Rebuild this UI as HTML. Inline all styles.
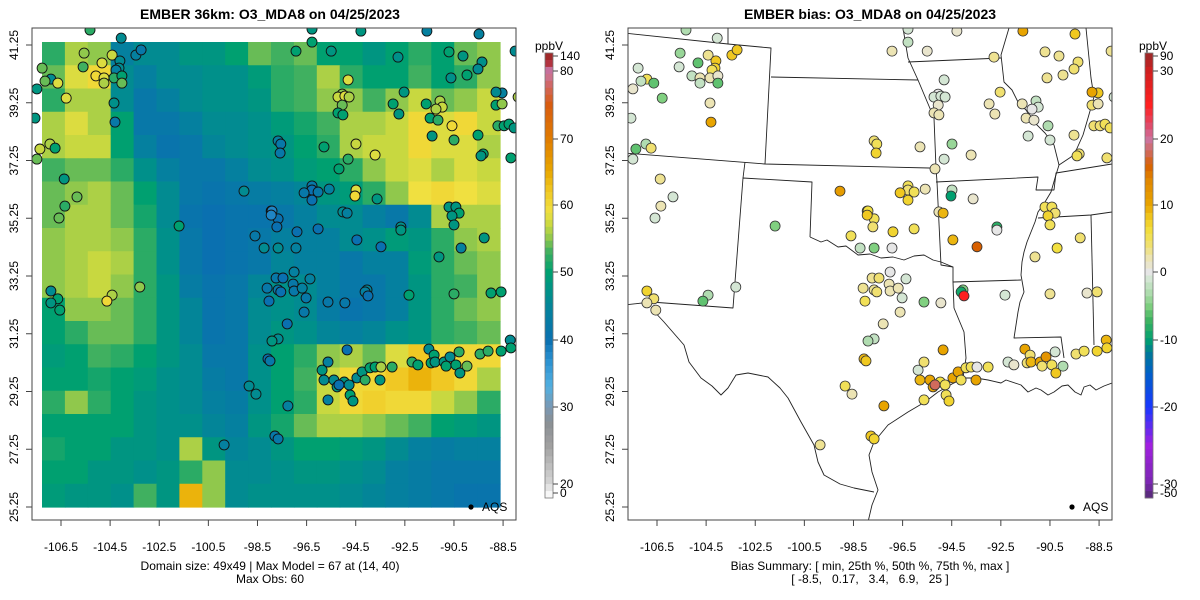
<!DOCTYPE html>
<html><head><meta charset="utf-8"><style>
body{margin:0;background:#fff}
svg{display:block;font-family:"Liberation Sans",Arial,sans-serif}
</style></head><body>
<svg id="chart" width="1200" height="600" viewBox="0 0 1200 600" xmlns="http://www.w3.org/2000/svg">
<defs>
<clipPath id="clipL"><rect x="32" y="28" width="484" height="492"/></clipPath>
<clipPath id="clipR"><rect x="628" y="28" width="484" height="492"/></clipPath>
<g id="borders" fill="none" stroke="#222" stroke-width="0.9" stroke-linejoin="round">
<polyline points="624,33 728,44 771,48 765,164"/>
<polyline points="728,28 728,44"/>
<polyline points="771,77 918,80"/>
<polyline points="624,153 765,164 929,168 936,168"/>
<polyline points="936,182 1038,177 1036,190 1054,190 1056,173 1112,164"/>
<polyline points="903,28 908,58 918,80 934,118 936,168 937,182 941,265 953,267 953,282 954,308 964,332 966,358 963,378"/>
<polyline points="810,237 812,182 743,178 733,308 651,302 624,305"/>
<polyline points="745,162 743,178"/>
<polyline points="810,237 821,242 827,240 838,247 846,246 858,255 870,254 881,258 893,257 904,260 914,256 924,255 933,260 941,262 953,267"/>
<polyline points="651,308 664,322 684,345 689,362 701,378 712,386 721,395 728,388 736,375 748,373 768,377 780,388 788,398 801,422 814,445 818,462 824,475 840,484 854,488 874,492"/>
<polyline points="868,522 872,505 878,490 872,472 869,455 874,442 888,425 908,412 925,402 938,392 952,384 964,378 976,378 988,380 1001,383 1006,380 1021,385 1028,392 1036,388 1041,390 1048,395 1054,392 1062,386 1068,385 1075,392 1081,395 1084,387 1090,385 1096,390 1104,386 1112,383"/>
<polyline points="953,282 1021,280"/>
<polyline points="908,62 1001,58"/>
<polyline points="1009,28 1001,55 1004,82 1012,90 1018,102 1026,110 1034,122 1045,133 1054,145 1059,165 1055,178 1051,192 1045,202 1038,212 1035,222 1031,232 1027,242 1024,252 1022,262 1021,275 1024,292 1020,302 1018,312 1016,325 1014,338 1061,337 1064,358"/>
<polyline points="1086,28 1091,78 1094,97 1088,118 1083,135 1074,155 1059,165"/>
<polyline points="1038,218 1091,215 1112,212"/>
<polyline points="1091,215 1094,345"/>
</g>
</defs>

<rect width="1200" height="600" fill="#fff"/>

<text x="270" y="19" text-anchor="middle" font-size="14" font-weight="bold">EMBER 36km: O3_MDA8 on 04/25/2023</text>
<g id="heatmap" clip-path="url(#clipL)"></g>
<use href="#borders" transform="translate(-596,0)" clip-path="url(#clipL)"/>
<g id="obsL" clip-path="url(#clipL)"></g>
<rect x="32" y="28" width="484" height="492" fill="none" stroke="#444" stroke-width="1"/>
<g id="axesL" font-size="12" fill="#000"></g>
<circle cx="471" cy="507" r="2.6" fill="#000"/>
<text x="482" y="511" font-size="12">AQS</text>
<text x="270" y="570" text-anchor="middle" font-size="12">Domain size: 49x49 | Max Model = 67 at (14, 40)</text>
<text x="270" y="583" text-anchor="middle" font-size="12">Max Obs: 60</text>
<g id="cbarL"></g>
<text x="549" y="50" text-anchor="middle" font-size="12">ppbV</text>

<text x="870" y="19" text-anchor="middle" font-size="14" font-weight="bold">EMBER bias: O3_MDA8 on 04/25/2023</text>
<use href="#borders" clip-path="url(#clipR)"/>
<g id="biasR" clip-path="url(#clipR)"></g>
<rect x="628" y="28" width="484" height="492" fill="none" stroke="#444" stroke-width="1"/>
<g id="axesR" font-size="12" fill="#000"></g>
<circle cx="1072" cy="507" r="2.6" fill="#000"/>
<text x="1083" y="511" font-size="12">AQS</text>
<text x="870" y="570" text-anchor="middle" font-size="12">Bias Summary: [ min, 25th %, 50th %, 75th %, max ]</text>
<text x="870" y="583" text-anchor="middle" font-size="12" xml:space="preserve">[ -8.5,   0.17,   3.4,   6.9,   25 ]</text>
<g id="cbarR"></g>
<text x="1153" y="50" text-anchor="middle" font-size="12">ppbV</text>
</svg>
<script>
const xTickLabels = [-106.5,-104.5,-102.5,-100.5,-98.5,-96.5,-94.5,-92.5,-90.5,-88.5];
const yTickLabels = [41.25,39.25,37.25,35.25,33.25,31.25,29.25,27.25,25.25];
const obsTicks = [140,80,70,60,50,40,30,20,0];
const biasTicks = [90,30,20,10,0,-10,-20,-30,-50];
const modelGrid = [
[52,56,55,44,46,46,48,48,50,54,53,54,50,50,48,50,52,50,54,55],
[54,58,60,46,44,46,46,47,47,49,52,53,56,52,50,50,53,50,52,55],
[52,56,56,46,42,44,46,47,47,48,52,53,55,55,53,55,57,54,55,57],
[56,58,56,50,42,42,44,46,46,47,49,51,53,56,56,57,60,58,60,57],
[56,57,57,50,44,41,42,45,46,47,48,50,52,56,57,57,60,58,58,56],
[53,54,54,52,47,44,42,42,44,46,47,49,50,52,55,57,58,56,58,57],
[54,55,56,54,50,46,42,41,42,43,44,45,48,49,52,55,59,60,59,58],
[54,56,56,54,51,46,41,40,41,41,42,44,46,46,44,42,46,56,56,56],
[55,56,56,55,52,47,42,40,41,42,44,44,44,46,47,49,48,52,55,56],
[55,56,57,56,52,47,42,40,41,42,45,44,44,42,44,44,49,52,54,55],
[55,56,57,55,52,48,43,41,42,45,47,46,44,42,42,44,48,52,53,55],
[50,55,55,54,52,48,45,41,42,46,47,46,43,41,42,44,48,52,54,55],
[50,52,54,54,52,48,45,41,42,46,48,47,45,44,45,47,48,52,53,54],
[49,50,53,52,50,48,46,42,42,47,50,52,55,56,54,58,62,60,60,60],
[50,50,51,50,49,47,46,43,42,47,50,53,57,60,60,62,64,62,60,56],
[52,55,52,50,48,47,46,44,43,47,50,52,57,60,61,60,60,57,55,52],
[50,50,50,50,48,47,47,45,44,48,51,54,56,56,55,54,53,50,49,48],
[51,50,50,48,48,47,56,48,45,46,48,50,50,49,48,46,44,43,44,44],
[50,50,48,48,47,48,52,55,46,46,47,48,48,47,46,44,43,42,42,42],
[49,48,48,47,53,48,64,55,46,47,47,47,47,46,45,44,43,42,41,41]];
const stLon = [-105.32,-104.05,-105.56,-104.42,-104.10,-103.45,-103.24,-104.83,-104.14,-104.26,-107.27,-105.60,-105.08,-104.75,-104.34,-104.02,-106.91,-107.15,-106.63,-107.48,-104.75,-104.02,-106.29,-104.34,-104.30,-107.56,-107.36,-106.95,-106.74,-107.48,-106.37,-105.85,-106.34,-106.58,-99.05,-101.69,-97.94,-98.60,-98.23,
-96.28,-94.29,-91.60,-89.48,-96.28,-96.93,-95.50,-92.78,-90.70,-90.13,-88.01,-89.36,-89.52,-90.62,-89.97,-94.81,-95.05,-95.22,-94.94,-94.77,-95.05,-95.22,-95.02,-92.53,-92.98,-92.74,-91.63,-91.07,-90.98,-91.23,-91.47,-91.15,-90.58,-87.89,-88.54,-88.79,-88.79,-88.54,-88.71,-88.46,-88.26,-88.05,-89.52,-91.39,-90.50,-97.66,-97.55,-97.58,-95.79,-94.49,-93.71,-94.81,-95.18,-89.31,-89.40,-88.18,-96.28,-96.28,-96.60,-96.03,-96.28,-95.58,-94.49,-94.53,-93.63,-97.91,-97.66,-97.94,-97.71,-96.89,-96.03,-95.02,-94.85,-90.70,-90.42,-90.29,-90.58,-90.50,-89.27,-90.21,-91.11,-94.45,-93.47,-92.66,-92.66,-97.66,-96.93,
-97.74,-97.66,-97.55,-97.05,-97.01,-96.36,-97.46,-97.01,-96.68,-96.52,-95.63,-94.94,-96.60,-97.29,-97.66,-94.04,-94.12,-94.00,-92.33,-90.50,-88.99,-88.58,-94.85,-98.07,-97.99,-95.63,-95.87,-95.79,-95.39,-94.97,-95.26,-95.18,-94.77,-94.73,-94.45,-94.24,-94.12,-93.92,-93.71,-93.47,-93.51,-93.02,-94.61,-95.63,-97.26,-97.79,-97.66,-92.21,-91.97,-91.52,-91.31,-91.43,-91.27,-90.90,-90.66,-90.82,-90.42,-90.26,-90.29,-89.97,-89.44,-89.11,-88.58,-88.21,-88.18,
-106.91,-106.63,-106.91,-106.55,-104.42,-104.63,-103.29,-98.11,-98.03,-97.91,-98.84,-98.56,-99.86];
const stLat = [41.77,41.49,40.97,40.90,40.70,40.90,41.08,40.63,40.45,40.38,40.45,40.49,40.18,40.11,40.11,40.18,40.07,40.00,39.93,39.73,39.93,39.93,39.41,39.24,38.58,38.72,37.65,37.82,37.68,37.30,36.61,35.99,35.67,35.26,36.19,34.98,35.50,34.64,34.22,
41.80,41.73,41.73,41.63,41.35,41.04,41.04,40.83,41.01,40.87,41.04,40.66,40.42,40.11,40.21,40.04,39.55,39.45,39.48,39.45,39.17,38.90,38.83,39.62,39.21,38.86,39.21,39.31,39.10,39.03,38.72,38.65,38.45,39.45,39.59,39.62,39.17,39.21,38.45,38.45,38.51,38.38,38.13,38.10,37.96,37.93,37.82,37.51,37.72,37.82,37.44,37.30,36.96,37.48,37.41,37.34,36.37,36.23,36.13,36.16,35.88,36.26,36.23,36.02,35.92,35.50,35.23,35.36,34.95,34.78,34.88,35.47,35.43,35.64,35.64,35.43,35.33,35.02,34.57,34.22,33.91,34.50,34.26,34.95,34.84,34.22,34.22,
33.18,32.77,32.70,32.97,33.39,33.15,33.18,32.73,32.83,32.49,32.35,32.32,32.00,31.59,31.07,32.77,32.70,32.56,32.59,32.63,32.66,32.70,30.69,30.38,30.31,30.27,29.99,29.65,29.65,29.58,29.41,29.48,29.48,29.13,29.72,29.93,29.65,30.07,30.10,30.10,29.65,30.10,28.92,28.96,28.75,27.71,27.61,30.27,30.17,30.72,30.51,30.24,30.27,30.27,30.45,30.13,30.17,29.89,30.62,30.13,30.55,30.65,30.65,31.03,30.76,
32.73,32.46,32.32,32.07,32.59,32.38,32.87,32.83,32.38,31.00,29.44,29.16,27.40];
const stBias = [-3,-1,-4,3,8,8,8,-6,7,5,-1,-1,-2,2,2,1,5,-2,-6,1,-2,-6,-5,2,10,-1,-6,-3,4,-1,3,-1,2,-1,11,-5,7,5,-2,
-1,1,10,8,-2,2,1,3,3,3,3,4,4,3,3,-1,0,-1,-1,-1,1,2,2,4,2,2,2,-2,-1,0,2,1,-3,-1,8,10,4,2,4,4,5,5,3,-1,-1,4,5,7,2,-4,2,-1,2,4,5,4,5,4,8,5,7,2,-2,-10,1,6,5,8,4,7,5,2,9,5,5,4,7,5,4,6,3,9,16,-8,0,-5,0,
3,3,4,2,0,-1,4,2,2,-1,-5,1,2,2,-2,-5,-9,25,-1,3,1,4,10,9,8,4,-1,9,10,6,10,18,5,5,10,10,5,5,5,0,10,5,7,5,10,8,7,-1,1,10,4,4,9,10,12,4,5,8,-1,-3,4,5,7,9,7,
7,4,2,2,-3,-6,-1,3,5,-3,5,2,3];
const stObs = [52,46,55,57,46,44,42,58,46,44,54,53,60,58,52,50,46,54,58,48,56,54,58,47,42,48,57,56,50,54,48,54,52,54,46,50,40,42,46,
48,48,44,44,50,50,48,47,50,48,46,47,46,47,50,58,55,57,58,56,54,50,50,48,50,48,50,56,57,56,50,52,60,56,44,46,50,55,52,50,50,48,50,48,52,44,42,42,50,57,58,52,50,50,48,50,42,40,42,42,40,44,58,60,48,38,40,38,40,40,40,46,44,48,48,50,48,48,48,44,48,40,40,47,48,46,44,
42,42,40,42,44,44,40,42,44,42,42,42,42,40,46,45,44,40,50,52,50,50,40,40,42,44,48,46,46,48,48,40,46,50,46,48,52,50,50,56,48,52,48,44,44,42,42,52,50,46,50,50,48,48,46,50,50,48,52,54,52,52,50,46,50,
46,50,48,50,56,60,55,42,40,48,46,46,44];

const LX0 = 61, RX0 = 657, PXLON = 24.56, Y0 = 45, PXLAT = 28.875;
function xL(lon){ return LX0 + (lon - xTickLabels[0]) * PXLON; }
function xR(lon){ return RX0 + (lon - xTickLabels[0]) * PXLON; }
function yS(lat){ return Y0 + (yTickLabels[0] - lat) * PXLAT; }
const cbPos = [56,71,139,205,272,340,407,484,493];
function cbY(v, ticks){
  for (let i=0;i<ticks.length-1;i++){
    const a=ticks[i], b=ticks[i+1];
    if (v<=a && v>=b) return cbPos[i] + (a-v)/(a-b)*(cbPos[i+1]-cbPos[i]);
  }
  return v>ticks[0]?cbPos[0]:cbPos[cbPos.length-1];
}
const obsStops = [[0,'#f7f7f7'],[20,'#d6d6d6'],[25,'#a0a0a0'],[28,'#8a8f94'],[30,'#7a98b4'],[33,'#52b0e0'],[37,'#2a90d0'],[40,'#0a70b0'],[44,'#05809f'],[47,'#00908a'],[50,'#00a070'],[53,'#40b060'],[55,'#90c84c'],[57,'#c8d840'],[59,'#f0e040'],[62,'#f0c824'],[65,'#e8a800'],[70,'#e07c00'],[75,'#d85c10'],[78,'#d06868'],[80,'#c878a8'],[100,'#b83848'],[140,'#a02828']];
const biasStops = [[-50,'#5c2a80'],[-30,'#7a28b0'],[-25,'#a020e0'],[-20,'#1838ff'],[-15,'#0060c8'],[-12,'#007898'],[-10,'#00a070'],[-7,'#40b460'],[-5,'#80d080'],[-3,'#b0dcb0'],[-1,'#d4e6d4'],[0,'#e6e6e6'],[2,'#ece4b4'],[4,'#f0e070'],[6,'#f2e040'],[8,'#f0c820'],[10,'#e8a400'],[14,'#e08400'],[16,'#d86000'],[18,'#d06a5c'],[20,'#cc74a0'],[22,'#e04a68'],[25,'#ff2020'],[30,'#d02020'],[90,'#a02828']];
function hex(c){return [parseInt(c.slice(1,3),16),parseInt(c.slice(3,5),16),parseInt(c.slice(5,7),16)];}
function cmap(v, stops){
  if (v<=stops[0][0]) return stops[0][1];
  for (let i=0;i<stops.length-1;i++){
    const [a,ca]=stops[i],[b,cb]=stops[i+1];
    if (v<=b){const t=(v-a)/(b-a),A=hex(ca),B=hex(cb);
      return 'rgb('+A.map((x,k)=>Math.round(x+(B[k]-x)*t)).join(',')+')';}
  }
  return stops[stops.length-1][1];
}
const NS='http://www.w3.org/2000/svg';
function mk(tag, attrs, parent){const e=document.createElementNS(NS,tag);for(const k in attrs)e.setAttribute(k,attrs[k]);parent.appendChild(e);return e;}

const hm=document.getElementById('heatmap');
const gx0=42, gx1=500, gy0=42, gy1=507;
const nR=modelGrid.length, nC=modelGrid[0].length;
const cw=(gx1-gx0)/nC, ch=(gy1-gy0)/nR;
modelGrid.forEach((row,r)=>row.forEach((v,c)=>{
  const e=mk('rect',{x:(gx0+c*cw).toFixed(2),y:(gy0+r*ch).toFixed(2),width:(cw+0.6).toFixed(2),height:(ch+0.6).toFixed(2),fill:cmap(v,obsStops)},hm);
  
  
}));

const gL=document.getElementById('obsL'), gR=document.getElementById('biasR');
stLon.forEach((lon,i)=>{
  const cy=yS(stLat[i]);
  const a=mk('circle',{cx:xL(lon).toFixed(1),cy:cy.toFixed(1),r:5,fill:cmap(stObs[i],obsStops),stroke:'#111','stroke-width':0.9},gL);
  
  
  const b=mk('circle',{cx:xR(lon).toFixed(1),cy:cy.toFixed(1),r:5,fill:cmap(stBias[i],biasStops),stroke:'#333','stroke-width':0.8},gR);
  
  
});

function axes(gid, xf, leftX){
  const g=document.getElementById(gid);
  xTickLabels.forEach(t=>{
    const x=xf(t);
    const l=mk('line',{x1:x,y1:520,x2:x,y2:526,stroke:'#444'},g);
    
    
    const tx=mk('text',{x:x,y:551,'text-anchor':'middle'},g);tx.textContent=t.toFixed(1);
    
    
  });
  yTickLabels.forEach(t=>{
    const y=yS(t);
    const l=mk('line',{x1:leftX-6,y1:y,x2:leftX,y2:y,stroke:'#444'},g);
    
    
    const tx=mk('text',{x:leftX-14,y:y,'text-anchor':'middle',transform:`rotate(-90 ${leftX-14} ${y})`},g);tx.textContent=t.toFixed(2);
    
    
  });
}
axes('axesL', xL, 32);
axes('axesR', xR, 628);

function colorbar(gid, x, ticks, stops){
  const g=document.getElementById(gid);
  const N=64;
  for(let k=0;k<N;k++){
    const y0=53+k*(498-53)/N, y1=53+(k+1)*(498-53)/N;
    const ym=(y0+y1)/2;
    let v=ticks[ticks.length-1];
    for(let i=0;i<ticks.length-1;i++){
      if(ym<=cbPos[i+1]||i===ticks.length-2){const p0=cbPos[i],p1=cbPos[i+1];v=ticks[i]+(Math.max(p0,Math.min(p1,ym))-p0)/(p1-p0)*(ticks[i+1]-ticks[i]);break;}
    }
    const r=mk('rect',{x:x,y:y0.toFixed(2),width:8,height:((498-53)/N+0.4).toFixed(2),fill:cmap(v,stops)},g);
    
    
  }
  const fr=mk('rect',{x:x,y:53,width:8,height:445,fill:'none',stroke:'#777','stroke-width':0.8},g);
  
  
  ticks.forEach(t=>{
    const y=cbY(t,ticks);
    const l=mk('line',{x1:x+8,y1:y,x2:x+13,y2:y,stroke:'#444'},g);
    
    
    const tx=mk('text',{x:x+15,y:y+4,'font-size':12},g);tx.textContent=t;
    
    
  });
}
colorbar('cbarL',545,obsTicks,obsStops);
colorbar('cbarR',1145,biasTicks,biasStops);
</script>
</body></html>
